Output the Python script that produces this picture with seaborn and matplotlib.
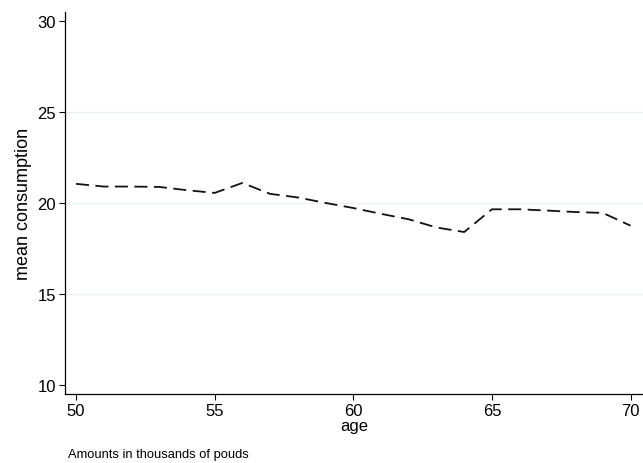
import matplotlib
matplotlib.use("Agg")
import matplotlib.pyplot as plt
import seaborn as sns
import pandas as pd

# Mean consumption by age (thousands of pounds)
ages = [50, 51, 52, 53, 54, 55, 56, 57, 58, 59, 60,
        61, 62, 63, 64, 65, 66, 67, 68, 69, 70]
mean_consumption = [21.05, 20.9, 20.9, 20.88, 20.7, 20.55, 21.1, 20.5, 20.3, 20.0, 19.72,
                    19.4, 19.1, 18.65, 18.4, 19.65, 19.65, 19.58, 19.5, 19.45, 18.75]
x_ticks = [50, 55, 60, 65, 70]
y_ticks = [10, 15, 20, 25, 30]

df = pd.DataFrame({"age": ages, "mean consumption": mean_consumption})

sns.set_theme(style="white")
plt.rcParams["font.family"] = ["Liberation Sans", "DejaVu Sans"]
plt.rcParams["text.color"] = "black"
plt.rcParams["axes.labelcolor"] = "black"
plt.rcParams["xtick.color"] = "black"
plt.rcParams["ytick.color"] = "black"

fig = plt.figure(figsize=(6.43, 4.64), dpi=100)
ax = fig.add_axes([0.101, 0.149, 0.899, 0.823])

# light horizontal grid at interior ticks
for yv in y_ticks[1:-1]:
    ax.axhline(yv, color="#eaf2f3", lw=1.0, zorder=0)

sns.lineplot(data=df, x="age", y="mean consumption", ax=ax,
             color="#111111", lw=1.3, dashes=False)
ax.lines[-1].set_dashes((7.2, 3.6))

ax.set_xlim(49.6, 70.45)
ax.set_ylim(9.5, 30.5)
ax.set_xticks(x_ticks)
ax.set_yticks(y_ticks)
ax.tick_params(axis="both", which="both", direction="out", length=4.5, width=0.8,
               labelsize=12, pad=2, left=True, bottom=True)
ax.tick_params(axis="x", length=4, pad=2.5)

for side in ["top", "right"]:
    ax.spines[side].set_visible(False)
for side in ["left", "bottom"]:
    ax.spines[side].set_color("black")
    ax.spines[side].set_linewidth(0.9)

ax.set_xlabel("age", fontsize=12, labelpad=0)
ax.set_ylabel("mean consumption", fontsize=13, labelpad=4)

fig.text(0.106, 0.013, "Amounts in thousands of pouds", fontsize=9.3, ha="left", va="baseline")

fig.savefig("out.png", dpi=100, facecolor="white")
